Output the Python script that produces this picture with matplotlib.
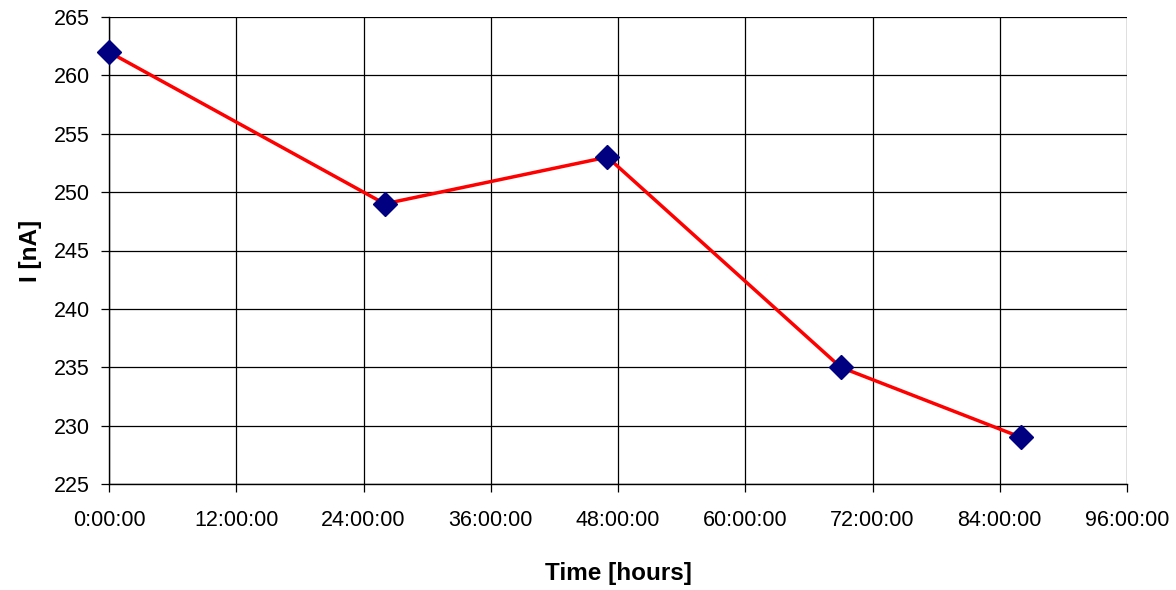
import matplotlib
matplotlib.use("Agg")
import matplotlib.pyplot as plt

hours = [0, 26, 47, 69, 86]
current_nA = [262, 249, 253, 235, 229]
x_ticks = [0, 12, 24, 36, 48, 60, 72, 84, 96]
x_tick_labels = ["0:00:00", "12:00:00", "24:00:00", "36:00:00", "48:00:00",
                 "60:00:00", "72:00:00", "84:00:00", "96:00:00"]
y_ticks = [225, 230, 235, 240, 245, 250, 255, 260, 265]

plt.rcParams['font.family'] = ['Liberation Sans', 'DejaVu Sans']

fig = plt.figure(figsize=(11.76, 5.9), dpi=100)
ax = fig.add_axes([109/1176, 1-484/590, (1127-109)/1176, (484-17)/590])

ax.plot(hours, current_nA, color='#ff0000', linewidth=2.5, zorder=3)
ax.plot(hours, current_nA, linestyle='none', marker='D', markersize=12,
        color='#000080', markeredgecolor='#000080', zorder=4, clip_on=False)

ax.set_xlim(0, 96)
ax.set_ylim(225, 265)
ax.set_xticks(x_ticks)
ax.set_xticklabels(x_tick_labels)
ax.set_yticks(y_ticks)
ax.grid(True, color='black', linewidth=0.9)
ax.set_axisbelow(True)
for s in ['top', 'right']:
    ax.spines[s].set_visible(False)
for s in ['left', 'bottom']:
    ax.spines[s].set_color('black')
    ax.spines[s].set_linewidth(1.0)
ax.tick_params(direction='out', length=6, width=0.9, labelsize=15.5)
ax.tick_params(axis='x', pad=13)
ax.tick_params(axis='y', pad=8)

ax.set_xlabel("Time [hours]", fontsize=17.5, fontweight='bold', labelpad=22)
ax.set_ylabel("I [nA]", fontsize=17.5, fontweight='bold', labelpad=8)

fig.savefig("out.png", dpi=100)
